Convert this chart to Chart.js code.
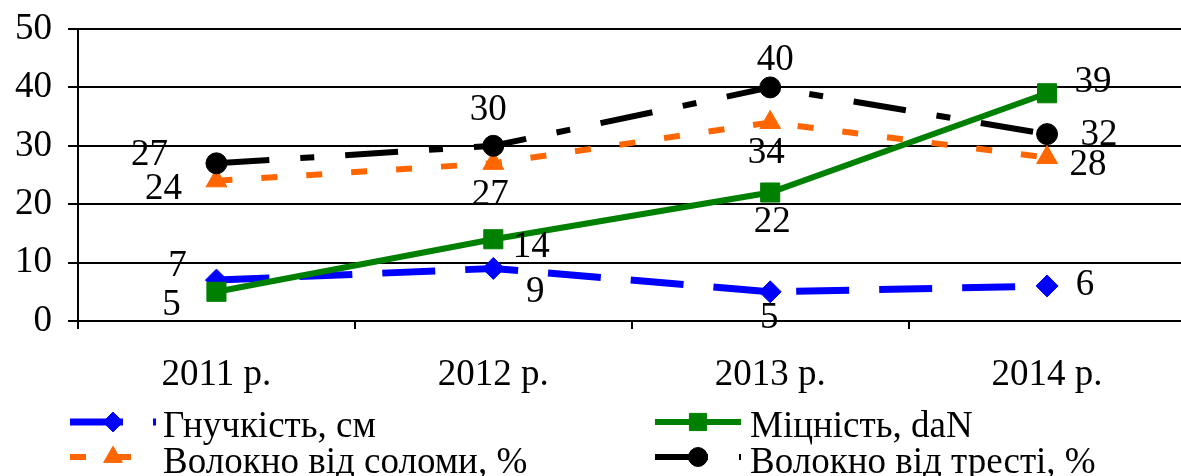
<!DOCTYPE html>
<html>
<head>
<meta charset="utf-8">
<script src="https://cdn.jsdelivr.net/npm/chart.js@4/dist/chart.umd.min.js"></script>
<style>
  html, body { margin: 0; padding: 0; background: #fff; overflow: hidden; }
  canvas { display: block; }
</style>
</head>
<body>
<canvas id="c" width="1200" height="476" style="width:1200px;height:476px"></canvas>
<script>
// Categories and series values
const years = ['2011 р.', '2012 р.', '2013 р.', '2014 р.'];
const flexibility = [7, 9, 5, 6];        // Гнучкість, см
const strength = [5, 14, 22, 39];        // Міцність, daN
const fibreStraw = [24, 27, 34, 28];     // Волокно від соломи, %
const fibreScutch = [27, 30, 40, 32];    // Волокно від тресті, %
const yTicks = [0, 10, 20, 30, 40, 50];
const seriesNames = ['Гнучкість, см', 'Міцність, daN', 'Волокно від соломи, %', 'Волокно від тресті, %'];

const FONT = { family: '"Liberation Serif", "Times New Roman", serif', size: 37 };
const fontStr = FONT.size + 'px ' + FONT.family;

// Value-label placement relative to each point (pixels)
const labelShift = [
  [[-39, -14], [42, 24], [-1, 26], [38, -1]],
  [[-45, 13], [38, 8], [2, 30], [46, -11]],
  [[-53, 8], [-3, 32], [-4, 31], [41, 8]],
  [[-67, -8], [-5, -36], [5, -27], [52, 1]]
];

// Legend slots: sample line start, row centre, text position
const legendSlots = [
  { x: 70, y: 422, tx: 163, ty: 437 },
  { x: 655, y: 422, tx: 750, ty: 437 },
  { x: 70, y: 457, tx: 163, ty: 473 },
  { x: 655, y: 457, tx: 750, ty: 473 }
];

function series(label, data, color, dash, width, style, radius, order) {
  return {
    label, data, order,
    borderColor: color, backgroundColor: color,
    borderWidth: width, borderDash: dash, borderCapStyle: 'butt', borderJoinStyle: 'miter',
    pointStyle: style, pointRadius: radius, pointHoverRadius: radius,
    pointBackgroundColor: color, pointBorderColor: color, pointBorderWidth: 1,
    tension: 0, fill: false
  };
}

const datasets = [
  series(seriesNames[0], flexibility, '#0000FF', [53, 30], 7, 'rectRot', 11, 4),
  series(seriesNames[1], strength, '#008000', [], 6, 'rect', 13.5, 3),
  series(seriesNames[2], fibreStraw, '#FF6600', [16, 29], 6, 'triangle', 12, 2),
  series(seriesNames[3], fibreScutch, '#000000', [53, 31, 14, 31], 6, 'circle', 10.5, 1)
];

const valueLabels = {
  id: 'valueLabels',
  afterDraw(chart) {
    const ctx = chart.ctx;
    ctx.save();
    ctx.font = fontStr;
    ctx.fillStyle = '#000';
    ctx.textAlign = 'center';
    ctx.textBaseline = 'middle';
    chart.data.datasets.forEach((ds, di) => {
      const meta = chart.getDatasetMeta(di);
      meta.data.forEach((pt, i) => {
        const s = labelShift[di][i];
        ctx.fillText(String(ds.data[i]), pt.x + s[0], pt.y + s[1]);
      });
    });
    ctx.restore();
  }
};

const seriesLegend = {
  id: 'seriesLegend',
  afterDraw(chart) {
    const ctx = chart.ctx;
    chart.data.datasets.forEach((ds, di) => {
      const slot = legendSlots[di];
      ctx.save();
      ctx.strokeStyle = ds.borderColor;
      ctx.lineWidth = ds.borderWidth;
      ctx.lineCap = 'butt';
      ctx.setLineDash(ds.borderDash);
      ctx.beginPath();
      ctx.moveTo(slot.x, slot.y);
      ctx.lineTo(slot.x + 86, slot.y);
      ctx.stroke();
      ctx.setLineDash([]);
      ctx.fillStyle = ds.pointBackgroundColor;
      ctx.strokeStyle = ds.pointBorderColor;
      ctx.lineWidth = 1;
      Chart.helpers.drawPoint(ctx, {
        pointStyle: ds.pointStyle, rotation: 0,
        radius: ds.pointRadius * 0.9, borderWidth: 1
      }, slot.x + 43, slot.y);
      ctx.font = fontStr;
      ctx.fillStyle = '#000';
      ctx.textAlign = 'left';
      ctx.textBaseline = 'alphabetic';
      ctx.fillText(ds.label, slot.tx, slot.ty);
      ctx.restore();
    });
  }
};

new Chart(document.getElementById('c'), {
  type: 'line',
  data: { labels: years, datasets },
  options: {
    responsive: false,
    animation: false,
    devicePixelRatio: 1,
    layout: { padding: { top: 29, right: 10, bottom: 0, left: 0 } },
    plugins: { legend: { display: false }, tooltip: { enabled: false } },
    scales: {
      x: {
        type: 'category',
        offset: true,
        grid: { offset: true, drawOnChartArea: false, drawTicks: true, tickLength: 8, color: '#000', lineWidth: 2 },
        border: { color: '#000', width: 2 },
        ticks: { padding: 24, color: '#000', font: FONT, maxRotation: 0, autoSkip: false },
        afterFit(scale) { scale.height = 155; scale.paddingLeft = 0; scale.paddingRight = 0; }
      },
      y: {
        min: 0, max: 50,
        afterBuildTicks(scale) { scale.ticks = yTicks.map(v => ({ value: v })); },
        grid: { color: '#000', lineWidth: 2, tickLength: 10 },
        border: { color: '#000', width: 2 },
        ticks: { padding: 16, color: '#000', font: FONT },
        afterFit(scale) { scale.width = 78; scale.paddingTop = 0; scale.paddingBottom = 0; }
      }
    }
  },
  plugins: [valueLabels, seriesLegend]
});
</script>
</body>
</html>
